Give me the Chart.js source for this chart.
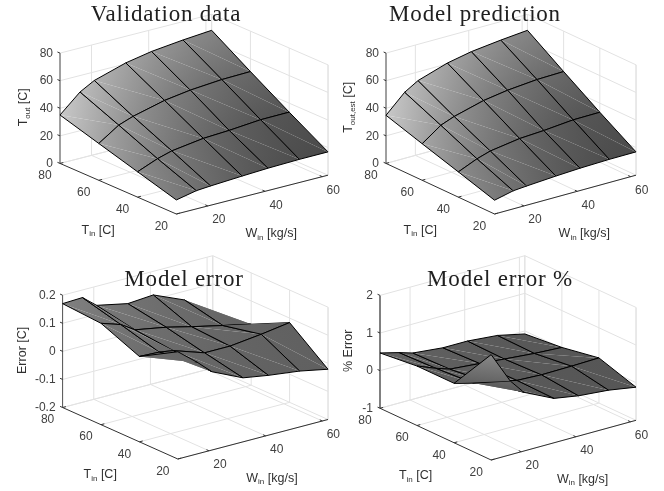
<!DOCTYPE html>
<html>
<head>
    <title>Model validation surfaces</title>
    <script src="https://cdn.jsdelivr.net/npm/chart.js"></script>
    <style>
        html, body { margin: 0; padding: 0; background: #fff; }
        canvas { position: absolute; left: 0; top: 0; }
    </style>
</head>
<body>
    <canvas id="c0" width="664" height="491"></canvas>
    <canvas id="c1" width="664" height="491"></canvas>
    <canvas id="c2" width="664" height="491"></canvas>
    <canvas id="c3" width="664" height="491"></canvas>

    <script>
        // grid of the surfaces
        const winVals = [9, 16, 21, 32, 41, 52, 62];
        const tinVals = [80, 60, 40, 20];
        const winTicks = [20, 40, 60];
        const tinTicks = [20, 40, 60, 80];

        // one row per tinVals entry, one column per winVals entry
        const validation = [
            [35.1, 48.1, 53.8, 60.7, 64.2, 66.7, 68.4],
            [26.7, 36.3, 40.0, 45.7, 48.4, 50.2, 50.7],
            [18.4, 24.2, 27.2, 30.4, 31.4, 33.3, 33.5],
            [10.2, 13.2, 14.0, 15.3, 16.2, 16.8, 16.9]
        ];
        const prediction = [
            [34.9, 47.9, 53.7, 60.6, 64.1, 66.6, 68.4],
            [26.5, 36.2, 39.9, 45.6, 48.3, 50.2, 50.7],
            [18.3, 24.1, 27.1, 30.3, 31.3, 33.2, 33.4],
            [10.0, 13.1, 13.9, 15.3, 16.2, 16.8, 16.9]
        ];
        const modelError = [
            [0.170, 0.173, 0.132, 0.109, 0.116, 0.069, -0.030],
            [0.161, 0.138, 0.106, 0.086, 0.064, 0.039, 0.017],
            [0.104, 0.101, 0.093, 0.056, 0.056, 0.069, 0.084],
            [0.182, 0.125, 0.079, 0.028, 0.013, -0.001, -0.021]
        ];
        const modelErrorPct = [
            [0.47, 0.34, 0.23, 0.15, 0.15, 0.08, -0.08],
            [0.58, 0.38, 0.26, 0.19, 0.13, 0.06, 0.02],
            [0.58, 0.45, 0.38, 0.20, 0.17, 0.18, 0.20],
            [1.80, 0.96, 0.56, 0.18, 0.07, 0.00, -0.12]
        ];

        const zTicks1 = [0, 20, 40, 60, 80];
        const zTicks2 = [-0.2, -0.1, 0, 0.1, 0.2];
        const zTicks3 = [-1, 0, 1, 2];

        // MATLAB style orthographic view
        const az = -37.5 * Math.PI / 180, el = 20 * Math.PI / 180, boxZ = 0.63;

        function project(p) {
            return {
                x: Math.cos(az) * p[0] + Math.sin(az) * p[1],
                y: -Math.sin(az) * Math.sin(el) * p[0] + Math.cos(az) * Math.sin(el) * p[1] + Math.cos(el) * p[2]
            };
        }
        function depth(p) {
            return Math.cos(el) * Math.sin(az) * p[0] - Math.cos(el) * Math.cos(az) * p[1] + Math.sin(el) * p[2];
        }

        // tone: base gray, rise towards Tin 80, rise towards low Win, extra at their corner, lift above liftFrom
        const tone1 = { base: 74, back: 59, front: 50, corner: 17, lift: 0, liftFrom: 1 };
        const tone2 = { base: 96, back: 6, front: 8, corner: 18, lift: 0, liftFrom: 1 };
        const tone3 = { base: 86, back: 2, front: 6, corner: 6, lift: 110, liftFrom: 0.53 };

        const panels = [
            { id: 'c0', z: validation, zTicks: zTicks1, tone: tone1, box: [60, 14.3, 328, 214], title: 'Validation data', titleAt: [166, 15],
              zLabel: ['T', 'out', ' [C]'], zLabelX: 24, axisColor: '#404040', axisWidth: 1 },
            { id: 'c1', z: prediction, zTicks: zTicks1, tone: tone1, box: [386, 14.3, 636, 214], title: 'Model prediction', titleAt: [475, 15],
              zLabel: ['T', 'out,est', ' [C]'], zLabelX: 349, axisColor: '#404040', axisWidth: 1 },
            { id: 'c2', z: modelError, zTicks: zTicks2, tone: tone2, box: [62.6, 255.7, 328, 459], title: 'Model error', titleAt: [184, 280],
              zLabel: ['Error [C]', '', ''], zLabelX: 23, axisColor: '#505050', axisWidth: 1 },
            { id: 'c3', z: modelErrorPct, zTicks: zTicks3, tone: tone3, box: [380, 255.7, 636, 460], title: 'Model error %', titleAt: [500, 280],
              zLabel: ['% Error', '', ''], zLabelX: 349, axisColor: '#808080', axisWidth: 2 }
        ];

        function shadeFor(cfg) {
            const zMin = cfg.zTicks[0], zMax = cfg.zTicks[cfg.zTicks.length - 1];
            const pos = (i, j) => [
                (winVals[j] - winVals[0]) / (winVals[winVals.length - 1] - winVals[0]),
                (tinVals[i] - 20) / 60,
                (cfg.z[i][j] - zMin) / (zMax - zMin) * boxZ
            ];
            const tone = cfg.tone;
            const shade = tinVals.map((t, i) => winVals.map((w, j) => {
                const p = pos(i, j), low = 1 - p[0];
                return tone.base + tone.back * Math.pow(p[1], 1.7) + tone.front * Math.pow(low, 1.7)
                    + tone.corner * low * p[1] + tone.lift * Math.max(0, p[2] / boxZ - tone.liftFrom);
            }));
            return { pos, shade };
        }

        // a linear gradient reproduces colour interpolation over a triangle
        function triangleFill(ds, chart) {
            const gray = v => { const g = Math.round(v); return 'rgb(' + g + ',' + g + ',' + g + ')'; };
            const pts = ds.data.map(d => [chart.scales.x.getPixelForValue(d.x), chart.scales.y.getPixelForValue(d.y)]);
            const s = ds.shades;
            const e1 = [pts[1][0] - pts[0][0], pts[1][1] - pts[0][1]], e2 = [pts[2][0] - pts[0][0], pts[2][1] - pts[0][1]];
            const det = e1[0] * e2[1] - e1[1] * e2[0];
            if (Math.abs(det) < 1e-6) return gray(s[0]);
            const d1 = s[1] - s[0], d2 = s[2] - s[0];
            const gx = (d1 * e2[1] - d2 * e1[1]) / det, gy = (d2 * e1[0] - d1 * e2[0]) / det;
            const g2 = gx * gx + gy * gy;
            if (g2 < 1e-9) return gray(s[0]);
            const sMin = Math.min(...s), sMax = Math.max(...s);
            const lo = s.indexOf(sMin);
            const grad = chart.ctx.createLinearGradient(pts[lo][0], pts[lo][1],
                pts[lo][0] + gx * (sMax - sMin) / g2, pts[lo][1] + gy * (sMax - sMin) / g2);
            grad.addColorStop(0, gray(sMin));
            grad.addColorStop(1, gray(sMax));
            return grad;
        }

        // scales have their pixel ranges after layout, datasets get updated right after that
        const surfaceFill = {
            id: 'surfaceFill',
            afterLayout(chart) {
                chart.data.datasets.forEach(ds => {
                    if (ds.shades) ds.backgroundColor = triangleFill(ds, chart);
                });
            }
        };

        function lineSet(points, color, width) {
            return { data: points, showLine: true, fill: false, pointRadius: 0, borderColor: color,
                     borderWidth: width, clip: false, tension: 0 };
        }

        function buildDatasets(cfg) {
            const { pos, shade } = shadeFor(cfg);
            const zMin = cfg.zTicks[0], zMax = cfg.zTicks[cfg.zTicks.length - 1];
            const wMin = winVals[0], wMax = winVals[winVals.length - 1];
            const fw = w => (w - wMin) / (wMax - wMin), ft = t => (t - 20) / 60;
            const fz = z => (z - zMin) / (zMax - zMin) * boxZ;
            const seg = (a, b) => [project(a), project(b)];
            const sets = [];
            const gridColor = '#e2e2e2';

            // back walls and floor
            winTicks.forEach(w => {
                sets.push(lineSet(seg([fw(w), 0, 0], [fw(w), 1, 0]), gridColor, 1));
                sets.push(lineSet(seg([fw(w), 1, 0], [fw(w), 1, boxZ]), gridColor, 1));
            });
            tinTicks.forEach(t => {
                sets.push(lineSet(seg([0, ft(t), 0], [1, ft(t), 0]), gridColor, 1));
                sets.push(lineSet(seg([1, ft(t), 0], [1, ft(t), boxZ]), gridColor, 1));
            });
            cfg.zTicks.forEach(z => {
                sets.push(lineSet(seg([0, 1, fz(z)], [1, 1, fz(z)]), gridColor, 1));
                sets.push(lineSet(seg([1, 1, fz(z)], [1, 0, fz(z)]), gridColor, 1));
            });
            sets.push(lineSet(seg([1, 1, 0], [1, 1, boxZ]), gridColor, 1));
            sets.push(lineSet(seg([1, 0, 0], [1, 0, boxZ]), gridColor, 1));

            // axis lines and tick marks
            const tick = 0.022;
            sets.push(lineSet(seg([0, 1, 0], [0, 1, boxZ]), cfg.axisColor, cfg.axisWidth));
            sets.push(lineSet(seg([0, 1, 0], [0, 0, 0]), '#303030', 1));
            sets.push(lineSet(seg([0, 0, 0], [1, 0, 0]), '#303030', 1));
            cfg.zTicks.forEach(z => sets.push(lineSet(seg([0, 1, fz(z)], [0, 1 + tick, fz(z)]), '#303030', 1)));
            winTicks.forEach(w => sets.push(lineSet(seg([fw(w), 0, 0], [fw(w), tick, 0]), '#303030', 1)));
            tinTicks.forEach(t => sets.push(lineSet(seg([0, ft(t), 0], [tick, ft(t), 0]), '#303030', 1)));

            // surface triangles, far ones first
            const tris = [];
            for (let i = 0; i < tinVals.length - 1; i++) {
                for (let j = 0; j < winVals.length - 1; j++) {
                    // path runs along the two mesh edges, the diagonal stays unstroked
                    tris.push([[i, j], [i, j + 1], [i + 1, j + 1]]);
                    tris.push([[i, j], [i + 1, j], [i + 1, j + 1]]);
                }
            }
            const keyed = tris.map(t => ({ t, d: t.reduce((sum, v) => sum + depth(pos(v[0], v[1])), 0) }));
            keyed.sort((a, b) => a.d - b.d);
            keyed.forEach(k => {
                sets.push({
                    data: k.t.map(v => project(pos(v[0], v[1]))),
                    shades: k.t.map(v => shade[v[0]][v[1]]),
                    showLine: true, fill: 'shape', pointRadius: 0, tension: 0, clip: false,
                    borderColor: '#000', borderWidth: 1, backgroundColor: '#666'
                });
            });
            return sets.reverse();   // chart.js paints the first dataset last
        }

        function subText(ctx, parts, x, y, align) {
            const main = '12.5px "Liberation Sans"', small = '8px "Liberation Sans"';
            ctx.font = main;
            const w0 = ctx.measureText(parts[0]).width, w2 = ctx.measureText(parts[2]).width;
            ctx.font = small;
            const w1 = ctx.measureText(parts[1]).width;
            const start = align === 'center' ? x - (w0 + w1 + w2) / 2 : x;
            ctx.textAlign = 'left';
            ctx.textBaseline = 'middle';
            ctx.font = main;
            ctx.fillText(parts[0], start, y);
            ctx.font = small;
            ctx.fillText(parts[1], start + w0, y + 4);
            ctx.font = main;
            ctx.fillText(parts[2], start + w0 + w1, y);
        }

        const panelText = {
            id: 'panelText',
            afterDatasetsDraw(chart, args, cfg) {
                const ctx = chart.ctx, sx = chart.scales.x, sy = chart.scales.y;
                const px = p => { const q = project(p); return [sx.getPixelForValue(q.x), sy.getPixelForValue(q.y)]; };
                const zMin = cfg.zTicks[0], zMax = cfg.zTicks[cfg.zTicks.length - 1];
                const wMin = winVals[0], wMax = winVals[winVals.length - 1];
                ctx.save();
                ctx.fillStyle = '#404040';
                ctx.font = '12px "Liberation Sans"';
                ctx.textBaseline = 'middle';
                ctx.textAlign = 'right';
                cfg.zTicks.forEach(z => {
                    const p = px([0, 1, (z - zMin) / (zMax - zMin) * boxZ]);
                    ctx.fillText(String(z), p[0] - 7, p[1] + 0.5);
                });
                ctx.textAlign = 'center';
                tinTicks.forEach(t => {
                    const p = px([0, (t - 20) / 60, 0]);
                    ctx.fillText(String(t), p[0] - 15, p[1] + 12.5);
                });
                winTicks.forEach(w => {
                    const p = px([(w - wMin) / (wMax - wMin), 0, 0]);
                    ctx.fillText(String(w), p[0] + 11, p[1] + 14);
                });

                ctx.fillStyle = '#303030';
                const tinMid = px([0, 0.5, 0]), winMid = px([0.5, 0, 0]);
                subText(ctx, ['T', 'in', ' [C]'], tinMid[0] - 20, tinMid[1] + 41.5, 'center');
                subText(ctx, ['W', 'in', ' [kg/s]'], winMid[0] + 19, winMid[1] + 39, 'center');

                const mid = px([0, 1, boxZ / 2]);
                ctx.save();
                ctx.translate(cfg.zLabelX, mid[1] - 1);
                ctx.rotate(-Math.PI / 2);
                subText(ctx, cfg.zLabel, 0, 0, 'center');
                ctx.restore();

                ctx.fillStyle = '#202020';
                ctx.font = '23px "Liberation Serif"';
                ctx.letterSpacing = '0.8px';
                ctx.textAlign = 'center';
                ctx.fillText(cfg.title, cfg.titleAt[0], cfg.titleAt[1]);
                ctx.restore();
            }
        };

        panels.forEach(cfg => {
            const xLo = Math.sin(az), xHi = Math.cos(az);
            const yHi = project([1, 1, boxZ]).y;
            new Chart(document.getElementById(cfg.id), {
                type: 'scatter',
                data: { datasets: buildDatasets(cfg) },
                plugins: [surfaceFill, panelText],
                options: {
                    responsive: false,
                    animation: false,
                    layout: { padding: { left: cfg.box[0], top: cfg.box[1], right: 664 - cfg.box[2], bottom: 491 - cfg.box[3] } },
                    scales: {
                        x: { type: 'linear', display: false, min: xLo, max: xHi },
                        y: { type: 'linear', display: false, min: 0, max: yHi }
                    },
                    plugins: { legend: { display: false }, tooltip: { enabled: false }, panelText: cfg }
                }
            });
        });
    </script>
</body>
</html>
